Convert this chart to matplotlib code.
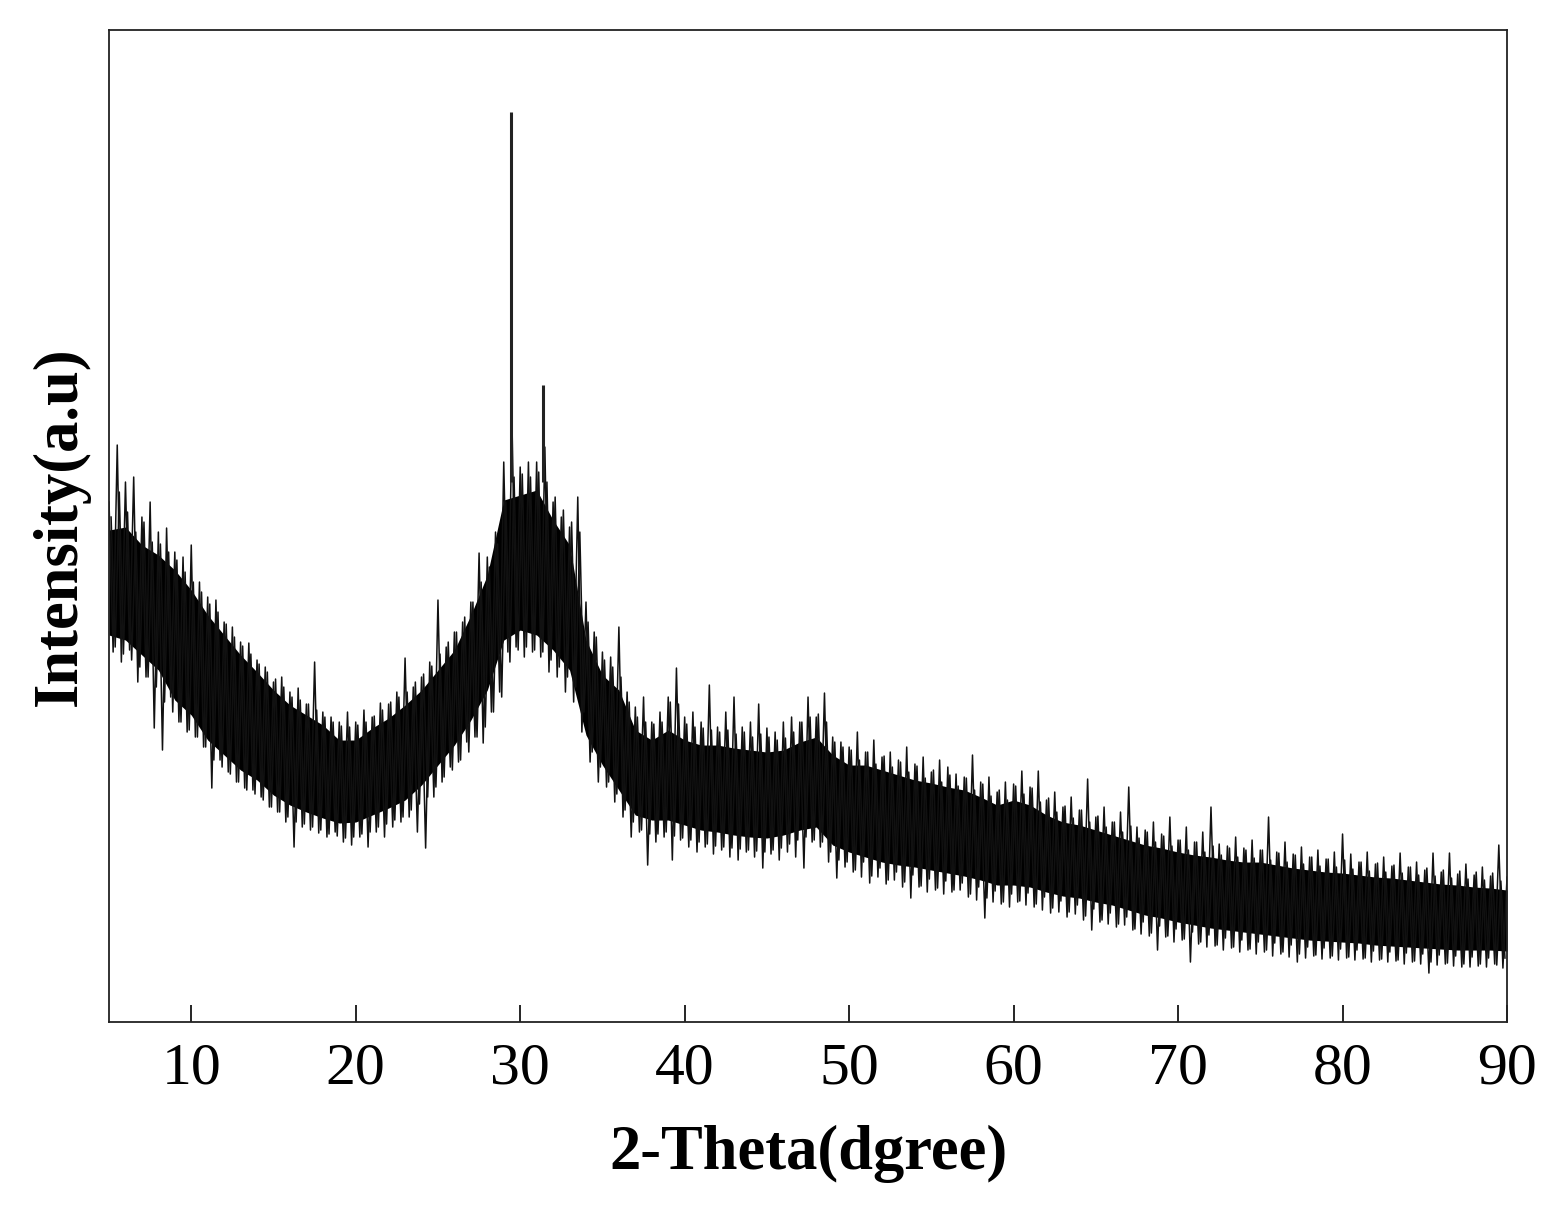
import numpy as np
import matplotlib
matplotlib.use("Agg")
import matplotlib.pyplot as plt

# ---------------- data (intensity in a.u.) ----------------
# dense noise band: upper / lower edge, every 1 degree from 5 to 90
core_top = [492, 495, 477, 467, 452, 432, 407, 387, 367, 350,
            332, 317, 307, 297, 282, 282, 294, 304, 317, 332,
            352, 372, 407, 447, 522, 527, 532, 502, 477, 382,
            347, 332, 292, 282, 292, 282, 277, 277, 274, 272,
            270, 272, 280, 285, 267, 257, 257, 252, 247, 242,
            239, 235, 232, 225, 217, 222, 217, 207, 200, 197,
            192, 187, 182, 177, 174, 170, 167, 165, 162, 160,
            160, 157, 154, 152, 150, 149, 147, 145, 144, 142,
            140, 138, 137, 135, 134, 132]
core_bot = [387, 382, 367, 352, 322, 307, 282, 267, 252, 242,
            227, 217, 210, 204, 199, 200, 207, 214, 222, 237,
            257, 277, 302, 332, 382, 392, 387, 372, 352, 287,
            257, 232, 207, 202, 202, 197, 192, 190, 187, 185,
            184, 187, 192, 195, 177, 170, 165, 160, 157, 155,
            152, 149, 146, 142, 137, 137, 135, 130, 126, 124,
            120, 117, 112, 107, 104, 100, 97, 94, 92, 90,
            88, 86, 84, 82, 81, 80, 79, 77, 76, 75,
            74, 73, 72, 72, 72, 71]

# upward noise spikes at 5.0, 5.5, ..., 90.0
spike_hi = [520, 577, 540, 545, 505, 520, 490, 494, 470, 465,
            477, 440, 425, 422, 400, 395, 380, 379, 362, 355,
            340, 345, 330, 334, 318, 360, 310, 305, 300, 310,
            300, 312, 305, 319, 318, 330, 364, 335, 345, 360,
            422, 375, 390, 400, 420, 469, 465, 490, 560, 600,
            555, 560, 560, 575, 520, 505, 495, 525, 420, 390,
            370, 365, 395, 330, 315, 325, 300, 310, 325, 354,
            305, 310, 300, 337, 295, 310, 325, 295, 300, 318,
            294, 290, 300, 305, 300, 325, 305, 329, 285, 280,
            275, 290, 270, 282, 265, 270, 262, 275, 258, 265,
            250, 262, 255, 248, 245, 267, 240, 245, 230, 240,
            238, 251, 235, 251, 222, 230, 215, 225, 212, 243,
            205, 215, 200, 210, 235, 195, 192, 200, 188, 205,
            182, 195, 180, 190, 215, 178, 176, 185, 174, 182,
            172, 205, 170, 180, 168, 175, 165, 172, 163, 170,
            188, 168, 160, 170, 158, 165, 156, 169, 155, 160,
            152, 169, 150, 169, 148, 158, 147, 155, 146, 177,
            145]
# downward noise spikes at 5.25, 5.75, ..., 89.75
spike_lo = [370, 360, 372, 340, 345, 294, 272, 325, 300, 290,
            285, 275, 234, 262, 250, 240, 234, 232, 225, 215,
            210, 200, 175, 195, 192, 189, 185, 190, 180, 177,
            185, 175, 190, 185, 195, 200, 205, 190, 174, 225,
            240, 255, 260, 280, 285, 279, 310, 330, 370, 375,
            365, 370, 365, 350, 345, 330, 320, 290, 260, 240,
            235, 220, 205, 185, 190, 157, 180, 185, 162, 182,
            175, 170, 175, 168, 172, 165, 162, 170, 165, 154,
            168, 162, 170, 165, 154, 180, 175, 160, 144, 155,
            150, 145, 139, 145, 138, 142, 135, 124, 135, 130,
            132, 128, 130, 132, 125, 122, 104, 120, 118, 115,
            120, 117, 115, 112, 109, 110, 105, 108, 102, 92,
            100, 98, 95, 97, 92, 88, 86, 72, 85, 80,
            82, 60, 78, 75, 76, 72, 74, 70, 72, 68,
            70, 66, 68, 65, 60, 64, 66, 63, 64, 62,
            64, 62, 63, 60, 62, 60, 61, 58, 60, 58,
            49, 57, 58, 56, 55, 55, 56, 55, 58, 54]

# smaller upward spikes at 5.125, 5.625, ..., 89.625
spike_hi2 = [505, 530, 510, 490, 500, 480, 478, 470, 462, 450,
             440, 430, 418, 410, 398, 385, 376, 368, 358, 350,
             343, 335, 325, 322, 318, 312, 305, 300, 296, 295,
             297, 300, 306, 312, 320, 325, 330, 340, 348, 356,
             368, 380, 390, 405, 420, 440, 455, 478, 520, 545,
             548, 545, 550, 540, 525, 512, 500, 490, 400, 385,
             362, 355, 345, 320, 305, 300, 298, 300, 320, 318,
             298, 295, 294, 292, 290, 292, 288, 290, 285, 288,
             285, 282, 284, 290, 300, 305, 308, 300, 280, 275,
             272, 262, 270, 258, 266, 255, 260, 250, 256, 244,
             252, 240, 247, 236, 244, 232, 238, 226, 232, 222,
             236, 228, 234, 220, 224, 210, 216, 204, 212, 200,
             206, 195, 200, 190, 196, 184, 190, 180, 186, 176,
             182, 172, 180, 170, 176, 167, 174, 165, 172, 164,
             172, 162, 169, 160, 167, 158, 165, 156, 163, 155,
             162, 153, 160, 151, 159, 150, 157, 149, 155, 147,
             154, 146, 152, 144, 151, 143, 150, 142, 149, 141]
# smaller downward spikes at 5.375, 5.875, ..., 89.875
spike_lo2 = [375, 368, 362, 355, 345, 335, 320, 310, 300, 292,
             285, 275, 262, 255, 248, 240, 232, 228, 222, 215,
             210, 205, 200, 198, 195, 192, 188, 186, 184, 185,
             188, 190, 195, 198, 202, 205, 212, 218, 225, 235,
             245, 252, 262, 270, 285, 295, 310, 325, 360, 372,
             375, 372, 370, 362, 355, 345, 335, 310, 270, 255,
             240, 228, 212, 200, 192, 188, 188, 190, 186, 184,
             182, 180, 178, 176, 175, 174, 173, 172, 171, 170,
             172, 174, 178, 182, 185, 182, 180, 170, 162, 160,
             152, 160, 146, 154, 142, 150, 140, 147, 136, 143,
             134, 141, 132, 139, 128, 135, 124, 131, 120, 128,
             121, 129, 118, 125, 114, 121, 110, 117, 106, 113,
             102, 109, 98, 105, 93, 100, 89, 96, 86, 93,
             83, 90, 80, 87, 77, 84, 75, 82, 73, 80,
             72, 79, 70, 77, 68, 75, 67, 74, 66, 73,
             65, 72, 64, 71, 63, 70, 62, 69, 61, 68,
             60, 67, 59, 66, 58, 65, 58, 64, 57, 64]

# sharp diffraction peaks
peak_pos = [29.44, 31.38]
peak_base = [540, 540]
peak_top = [910, 637]

xticks = [10, 20, 30, 40, 50, 60, 70, 80, 90]
xlabel = "2-Theta(dgree)"
ylabel = "Intensity(a.u)"

# ---------------- plotting ----------------
plt.rcParams['font.family'] = ['Liberation Serif', 'DejaVu Serif']

fig = plt.figure(figsize=(15.53, 12.16), dpi=100)
ax = fig.add_axes([0.0702, 0.1595, 0.9002, 0.8158])

x_core = np.arange(5, 91, 1.0)
x_hi = np.arange(5.0, 90.01, 0.5)
x_lo = np.arange(5.25, 89.8, 0.5)
x_hi2 = np.arange(5.125, 89.7, 0.5)
x_lo2 = np.arange(5.375, 89.9, 0.5)

ax.fill_between(x_core, core_bot, core_top, color='black', lw=0)


def zigzag(xa, ya, xb, yb):
    xs, ys = [], []
    for i in range(len(xa)):
        xs.append(xa[i]); ys.append(ya[i])
        if i < len(xb):
            xs.append(xb[i]); ys.append(yb[i])
    return xs, ys


xs, ys = zigzag(x_hi, spike_hi, x_lo, spike_lo)
ax.plot(xs, ys, color='#111111', lw=1.1)
xs2, ys2 = zigzag(x_hi2, spike_hi2, x_lo2, spike_lo2)
ax.plot(xs2, ys2, color='#111111', lw=1.1)

ax.vlines(peak_pos, peak_base, peak_top, color='#222222', lw=2.2)

ax.set_xlim(5, 90)
ax.set_ylim(0, 992)
ax.set_xticks(xticks)
ax.set_yticks([])
ax.tick_params(axis='x', direction='in', length=12, width=1.2,
               labelsize=43, pad=15, top=False)
for s in ax.spines.values():
    s.set_linewidth(1.3)
    s.set_color('#222222')

ax.set_xlabel(xlabel, fontsize=45, fontweight='bold', labelpad=20)
ax.set_ylabel(ylabel, fontsize=45, fontweight='bold', labelpad=14)

fig.savefig("out.png", dpi=100)
